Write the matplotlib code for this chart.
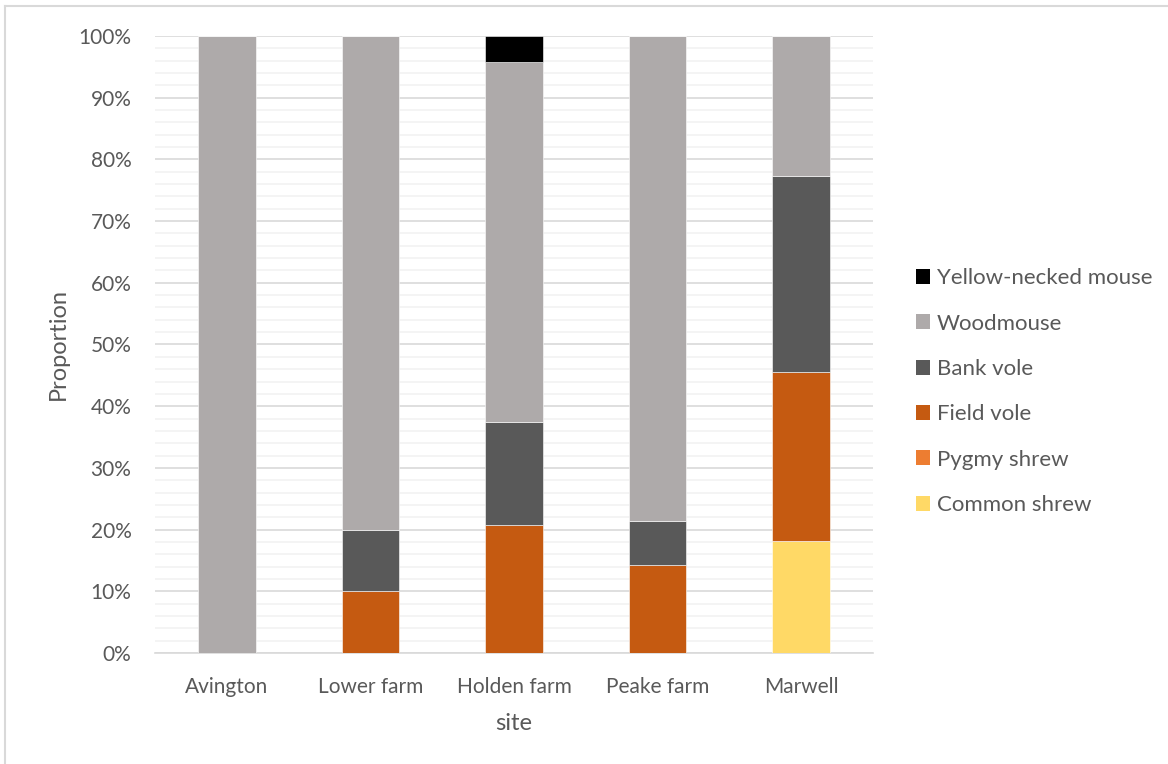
import matplotlib.pyplot as plt
import numpy as np
from matplotlib.lines import Line2D
from matplotlib.patches import Patch
from matplotlib.ticker import MultipleLocator, PercentFormatter

plt.rcParams['font.family'] = ['Lato', 'DejaVu Sans']

sites = ['Avington', 'Lower farm', 'Holden farm', 'Peake farm', 'Marwell']

# share of each species per site, in percent (stacked bottom to top)
common_shrew = [0, 0, 0, 0, 18.2]
pygmy_shrew = [0, 0, 0, 0, 0]
field_vole = [0, 10.0, 20.8, 14.3, 27.3]
bank_vole = [0, 10.0, 16.7, 7.1, 31.8]
woodmouse = [100.0, 80.0, 58.3, 78.6, 22.7]
yellow_necked = [0, 0, 4.2, 0, 0]

series = [
    ('Common shrew', common_shrew, '#FFD966'),
    ('Pygmy shrew', pygmy_shrew, '#ED7D31'),
    ('Field vole', field_vole, '#C55A11'),
    ('Bank vole', bank_vole, '#595959'),
    ('Woodmouse', woodmouse, '#AEAAAA'),
    ('Yellow-necked mouse', yellow_necked, '#000000'),
]

txt = '#595959'

fig = plt.figure(figsize=(11.68, 7.64), dpi=100)
ax = fig.add_axes([0.1327, 0.1453, 0.6147, 0.8076])

x = np.arange(len(sites))
bottom = np.zeros(len(sites))
for name, vals, col in series:
    vals = np.array(vals)
    ax.bar(x, vals, 0.4, bottom=bottom, color=col, label=name,
           edgecolor='white', linewidth=0.4, zorder=3)
    bottom += vals

ax.set_xlim(-0.5, len(sites) - 0.5)
ax.set_ylim(0, 100)
ax.yaxis.set_major_locator(MultipleLocator(10))
ax.yaxis.set_minor_locator(MultipleLocator(2))
ax.yaxis.set_major_formatter(PercentFormatter(decimals=0))
ax.grid(which='major', axis='y', color='#D9D9D9', lw=1.2, zorder=1)
ax.grid(which='minor', axis='y', color='#F2F2F2', lw=1.2, zorder=0)
ax.set_axisbelow(True)

for s in ['top', 'right', 'left']:
    ax.spines[s].set_visible(False)
ax.spines['bottom'].set_color('#D9D9D9')
ax.spines['bottom'].set_linewidth(1.2)

ax.set_xticks(x)
ax.set_xticklabels(sites)
ax.tick_params(axis='both', which='both', length=0, labelsize=15, labelcolor=txt)
ax.tick_params(axis='x', pad=17)
ax.tick_params(axis='y', pad=17)

ax.set_xlabel('site', fontsize=17, color=txt, labelpad=12)
ax.set_ylabel('Proportion', fontsize=17, color=txt, labelpad=7)

handles = [Patch(facecolor=col, label=name) for name, _, col in series][::-1]
fig.legend(handles=handles, loc='upper left', bbox_to_anchor=(0.767, 0.675),
           frameon=False, fontsize=16, labelcolor=txt,
           handlelength=0.65, handleheight=0.65, handletextpad=0.3,
           labelspacing=1.14)

# chart area border (left and top edges)
fig.add_artist(Line2D([0.0045, 0.0045], [0, 0.992], transform=fig.transFigure,
                      color='#D9D9D9', lw=1.5))
fig.add_artist(Line2D([0.0045, 1], [0.992, 0.992], transform=fig.transFigure,
                      color='#D9D9D9', lw=1.5))

fig.savefig('out.png', dpi=100)
